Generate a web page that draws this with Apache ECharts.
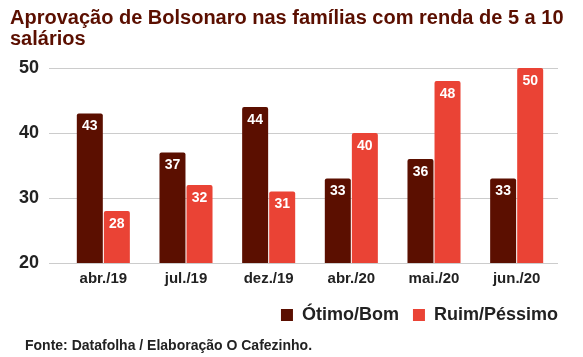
<!DOCTYPE html>
<html><head><meta charset="utf-8">
<script src="https://cdn.jsdelivr.net/npm/echarts@6/dist/echarts.min.js"></script>
<style>html,body{margin:0;padding:0;background:#fff}#c{width:583px;height:357px}</style>
</head><body><div id="c"></div>
<script>
const categories = ['abr./19','jul./19','dez./19','abr./20','mai./20','jun./20'];
const otimoBom = [43,37,44,33,36,33];
const ruimPessimo = [28,32,31,40,48,50];
const seriesNames = ['Ótimo/Bom','Ruim/Péssimo'];
const yTicks = [20,30,40,50];

const FONT = '"Liberation Sans", Arial, sans-serif';
const chart = echarts.init(document.getElementById('c'), null, {renderer:'canvas'});
const lbl = {show:true, position:'insideTop', distance:6, color:'#fff', fontWeight:'bold', fontSize:14, fontFamily:FONT};
chart.setOption({
  animation:false,
  textStyle:{fontFamily:FONT},
  title:{text:'Aprovação de Bolsonaro nas famílias com renda de 5 a 10\nsalários', left:10, top:8, padding:0,
    textStyle:{color:'#5b0f00', fontSize:20, fontWeight:'bold', fontFamily:FONT, lineHeight:21}},
  legend:{data:seriesNames, right:25, top:306, padding:0, itemWidth:12, itemHeight:12, itemGap:14,
    icon:'rect', textStyle:{fontSize:18, fontWeight:'bold', color:'#222', fontFamily:FONT, padding:[0,0,0,4]}},
  graphic:[{type:'text', left:25, top:339, style:{text:'Fonte: Datafolha / Elaboração O Cafezinho.', font:'bold 14px '+FONT, fill:'#222'}}],
  grid:[{left:49, right:25, top:68, bottom:94},{left:62, right:25, top:68, bottom:94}],
  xAxis:[
    {type:'category', gridIndex:0, data:[''], show:false},
    {type:'category', gridIndex:1, data:categories, axisLine:{show:false}, axisTick:{show:false},
      axisLabel:{fontSize:15, fontWeight:'bold', color:'#222', margin:8, fontFamily:FONT}}
  ],
  yAxis:[
    {type:'value', gridIndex:0, min:yTicks[0], max:yTicks[yTicks.length-1], interval:10,
      axisLine:{show:false}, axisTick:{show:false},
      axisLabel:{fontSize:18, fontWeight:'bold', color:'#222', margin:10, fontFamily:FONT},
      splitLine:{lineStyle:{color:'#ccc', width:1}}},
    {type:'value', gridIndex:1, min:yTicks[0], max:yTicks[yTicks.length-1], interval:10, show:false, splitLine:{show:false}}
  ],
  series:[
    {name:seriesNames[0], type:'bar', xAxisIndex:1, yAxisIndex:1, data:otimoBom, barWidth:26, barGap:'4%',
      itemStyle:{color:'#5b0f00', borderRadius:[2,2,0,0]}, label:lbl},
    {name:seriesNames[1], type:'bar', xAxisIndex:1, yAxisIndex:1, data:ruimPessimo, barWidth:26, barGap:'4%',
      itemStyle:{color:'#ea4335', borderRadius:[2,2,0,0]}, label:lbl}
  ]
});
</script></body></html>
